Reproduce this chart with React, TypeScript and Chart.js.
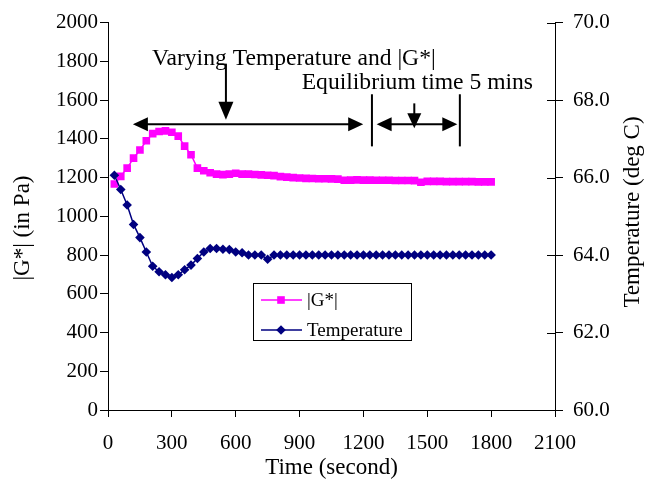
import React, { useEffect, useRef } from 'react';
import { Chart, registerables } from 'chart.js';

Chart.register(...registerables);

const FONT = '"Liberation Serif", "Times New Roman", serif';

// Time (second)
const timeSec = [
  30, 60, 90, 120, 150, 180, 210, 240, 270, 300,
  330, 360, 390, 420, 450, 480, 510, 540, 570, 600,
  630, 660, 690, 720, 750, 780, 810, 840, 870, 900,
  930, 960, 990, 1020, 1050, 1080, 1110, 1140, 1170, 1200,
  1230, 1260, 1290, 1320, 1350, 1380, 1410, 1440, 1470, 1500,
  1530, 1560, 1590, 1620, 1650, 1680, 1710, 1740, 1770, 1800,
];

// |G*| (Pa)
const gStar = [
  1167, 1206, 1249, 1300, 1342, 1390, 1427, 1438, 1441, 1434,
  1414, 1362, 1318, 1249, 1235, 1225, 1218, 1215, 1218, 1222,
  1218, 1218, 1216, 1214, 1212, 1210, 1205, 1202, 1200, 1198,
  1196, 1195, 1194, 1194, 1193, 1192, 1186, 1187, 1188, 1187,
  1187, 1186, 1186, 1186, 1185, 1185, 1185, 1184, 1176, 1180,
  1180, 1180, 1179, 1179, 1179, 1179, 1179, 1178, 1178, 1178,
];

// Temperature (deg C)
const temperature = [
  66.06, 65.69, 65.29, 64.79, 64.45, 64.08, 63.71, 63.57, 63.49, 63.42,
  63.49, 63.62, 63.74, 63.91, 64.08, 64.17, 64.17, 64.15, 64.14, 64.08,
  64.06, 64.0, 64.0, 64.0, 63.89, 64.0, 64.0, 64.0, 64.0, 64.0,
  64.0, 64.0, 64.0, 64.0, 64.0, 64.0, 64.0, 64.0, 64.0, 64.0,
  64.0, 64.0, 64.0, 64.0, 64.0, 64.0, 64.0, 64.0, 64.0, 64.0,
  64.0, 64.0, 64.0, 64.0, 64.0, 64.0, 64.0, 64.0, 64.0, 64.0,
];

const xTickValues = [0, 300, 600, 900, 1200, 1500, 1800, 2100];
const gTickValues = [0, 200, 400, 600, 800, 1000, 1200, 1400, 1600, 1800, 2000];
const tempTickValues = [60, 62, 64, 66, 68, 70];

const seriesNames = ['|G*|', 'Temperature'];
const xTitle = 'Time (second)';
const yTitle = '|G*| (in Pa)';
const y1Title = 'Temperature (deg C)';
const noteVarying = 'Varying Temperature and |G*|';
const noteEquil = 'Equilibrium time 5 mins';

const MAGENTA = '#FF00FF';
const NAVY = '#000080';

function arrowHead(ctx: CanvasRenderingContext2D, tx: number, ty: number, dx: number, dy: number, len = 15, half = 7) {
  const bx = tx - dx * len;
  const by = ty - dy * len;
  const px = -dy;
  const py = dx;
  ctx.beginPath();
  ctx.moveTo(tx, ty);
  ctx.lineTo(bx + px * half, by + py * half);
  ctx.lineTo(bx - px * half, by - py * half);
  ctx.closePath();
  ctx.fill();
}

const overlay = {
  id: 'overlay',
  afterDraw(chart: any) {
    const ctx: CanvasRenderingContext2D = chart.ctx;
    const xs = chart.scales.x;
    const ys = chart.scales.y;
    const y1 = chart.scales.y1;
    const area = chart.chartArea;
    const X = (v: number) => xs.getPixelForValue(v);
    const Y = (v: number) => ys.getPixelForValue(v);
    ctx.save();

    // inward part of right-axis ticks
    ctx.strokeStyle = '#000';
    ctx.lineWidth = 1;
    for (const v of tempTickValues) {
      const py = Math.round(y1.getPixelForValue(v)) + 0.5;
      ctx.beginPath();
      ctx.moveTo(area.right - 8, py);
      ctx.lineTo(area.right, py);
      ctx.stroke();
    }

    // axis titles
    ctx.fillStyle = '#000';
    ctx.font = `23px ${FONT}`;
    ctx.textAlign = 'center';
    ctx.textBaseline = 'middle';
    ctx.fillText(xTitle, (area.left + area.right) / 2, 468);
    ctx.save();
    ctx.translate(23, 228);
    ctx.rotate(-Math.PI / 2);
    ctx.fillText(yTitle, 0, 0);
    ctx.restore();
    ctx.save();
    ctx.translate(633, 212);
    ctx.rotate(-Math.PI / 2);
    ctx.fillText(y1Title, 0, 0);
    ctx.restore();

    // annotations
    ctx.font = `23.6px ${FONT}`;
    ctx.textAlign = 'left';
    ctx.textBaseline = 'alphabetic';
    ctx.fillText(noteVarying, X(207), Y(1781));
    ctx.fillText(noteEquil, X(910), Y(1657));

    ctx.lineWidth = 2;
    ctx.strokeStyle = '#000';
    ctx.fillStyle = '#000';
    const ay = Y(1475);
    // big double arrow
    ctx.beginPath();
    ctx.moveTo(X(117) + 10, ay);
    ctx.lineTo(X(1199) - 10, ay);
    ctx.stroke();
    arrowHead(ctx, X(117), ay, -1, 0);
    arrowHead(ctx, X(1199), ay, 1, 0);
    // vertical bars
    for (const t of [1240, 1653]) {
      ctx.beginPath();
      ctx.moveTo(X(t), Y(1630));
      ctx.lineTo(X(t), Y(1361));
      ctx.stroke();
    }
    // small double arrow
    ctx.beginPath();
    ctx.moveTo(X(1262) + 10, ay);
    ctx.lineTo(X(1641) - 10, ay);
    ctx.stroke();
    arrowHead(ctx, X(1262), ay, -1, 0);
    arrowHead(ctx, X(1641), ay, 1, 0);
    // big down arrow
    ctx.beginPath();
    ctx.moveTo(X(554), Y(1788));
    ctx.lineTo(X(554), Y(1498) - 10);
    ctx.stroke();
    arrowHead(ctx, X(554), Y(1498), 0, 1, 18, 7.5);
    // small down arrow
    ctx.beginPath();
    ctx.moveTo(X(1439), Y(1583));
    ctx.lineTo(X(1439), Y(1455) - 10);
    ctx.stroke();
    arrowHead(ctx, X(1439), Y(1455), 0, 1, 15, 7);

    // legend
    const lx = 253.5, ly = 283.5, lw = 158, lh = 57;
    ctx.fillStyle = '#fff';
    ctx.fillRect(lx, ly, lw, lh);
    ctx.lineWidth = 1;
    ctx.strokeStyle = '#000';
    ctx.strokeRect(lx, ly, lw, lh);
    ctx.font = `19px ${FONT}`;
    ctx.textBaseline = 'middle';
    ctx.textAlign = 'left';
    const rows = [
      { y: 300, color: MAGENTA, shape: 'rect' },
      { y: 330, color: NAVY, shape: 'diamond' },
    ];
    rows.forEach((r, i) => {
      ctx.strokeStyle = r.color;
      ctx.lineWidth = 1.5;
      ctx.beginPath();
      ctx.moveTo(261, r.y);
      ctx.lineTo(302, r.y);
      ctx.stroke();
      ctx.fillStyle = r.color;
      if (r.shape === 'rect') {
        ctx.fillRect(281 - 3.8, r.y - 3.8, 7.6, 7.6);
      } else {
        ctx.beginPath();
        ctx.moveTo(281, r.y - 4.8);
        ctx.lineTo(285.8, r.y);
        ctx.lineTo(281, r.y + 4.8);
        ctx.lineTo(276.2, r.y);
        ctx.closePath();
        ctx.fill();
      }
      ctx.fillStyle = '#000';
      ctx.fillText(seriesNames[i], 307, r.y + 1);
    });

    ctx.restore();
  },
};

export default function App() {
  const ref = useRef<HTMLCanvasElement>(null);
  useEffect(() => {
    const tickFont = { family: FONT, size: 21 };
    const axisGrid = {
      display: true,
      drawOnChartArea: false,
      drawTicks: true,
      tickLength: 8,
      color: '#000',
    };
    const chart = new Chart(ref.current!, {
      type: 'line',
      data: {
        datasets: [
          {
            label: seriesNames[0],
            data: timeSec.map((t, i) => ({ x: t, y: gStar[i] })),
            yAxisID: 'y',
            borderColor: MAGENTA,
            backgroundColor: MAGENTA,
            borderWidth: 1.5,
            pointStyle: 'rect',
            pointRadius: 5.4,
            pointBorderWidth: 0,
            pointBackgroundColor: MAGENTA,
            order: 1,
          },
          {
            label: seriesNames[1],
            data: timeSec.map((t, i) => ({ x: t, y: temperature[i] })),
            yAxisID: 'y1',
            borderColor: NAVY,
            backgroundColor: NAVY,
            borderWidth: 1.5,
            pointStyle: 'rectRot',
            pointRadius: 4.8,
            pointBorderWidth: 0,
            pointBackgroundColor: NAVY,
            order: 0,
          },
        ],
      },
      options: {
        responsive: false,
        animation: false,
        devicePixelRatio: 1,
        layout: { padding: { top: 21, left: 0, right: 0, bottom: 0 } },
        plugins: { legend: { display: false }, tooltip: { enabled: false } },
        scales: {
          x: {
            type: 'linear',
            min: 0,
            max: 2100,
            afterBuildTicks: (s: any) => { s.ticks = xTickValues.map((v) => ({ value: v })); },
            afterFit: (s: any) => { s.height = 73; },
            ticks: { font: tickFont, color: '#000', padding: 14, maxRotation: 0, autoSkip: false, callback: (v: any) => String(v) },
            grid: { ...axisGrid, tickLength: 7 },
            border: { color: '#000', width: 1 },
          },
          y: {
            type: 'linear',
            position: 'left',
            min: 0,
            max: 2000,
            afterBuildTicks: (s: any) => { s.ticks = gTickValues.map((v) => ({ value: v })); },
            afterFit: (s: any) => { s.width = 108; },
            ticks: { font: tickFont, color: '#000', padding: 2, autoSkip: false, callback: (v: any) => String(v) },
            grid: axisGrid,
            border: { color: '#000', width: 1 },
          },
          y1: {
            type: 'linear',
            position: 'right',
            min: 60,
            max: 70,
            afterBuildTicks: (s: any) => { s.ticks = tempTickValues.map((v) => ({ value: v })); },
            afterFit: (s: any) => { s.width = 90; },
            ticks: {
              font: tickFont,
              color: '#000',
              padding: 10,
              autoSkip: false,
              callback: (v: any) => Number(v).toFixed(1),
            },
            grid: axisGrid,
            border: { color: '#000', width: 1 },
          },
        },
      },
      plugins: [overlay],
    });
    return () => chart.destroy();
  }, []);
  return (
    <div style={{ position: 'fixed', left: 0, top: 0, width: 645, height: 483, background: '#fff' }}>
      <canvas ref={ref} width={645} height={483} style={{ display: 'block', width: 645, height: 483 }} />
    </div>
  );
}
